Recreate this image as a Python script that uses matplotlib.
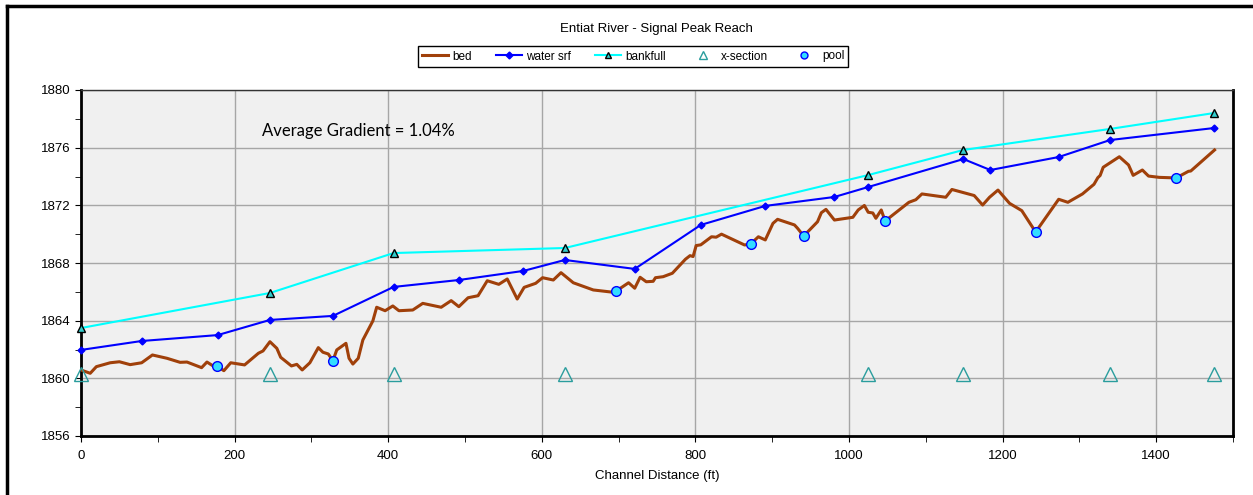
import numpy as np
import matplotlib
matplotlib.use('Agg')
import matplotlib.pyplot as plt
from matplotlib.ticker import MultipleLocator
from matplotlib.lines import Line2D

plt.rcParams['font.family'] = 'Liberation Sans'

# bed profile (channel distance ft, elevation)
bed_x = [0, 12, 20, 38, 50, 64, 79, 93, 112, 129, 138, 157, 164, 172, 177, 186, 195, 213,
         231, 237, 246, 255, 260, 274, 281, 288, 298, 309, 315, 322, 328, 333, 345, 349,
         354, 361, 367, 380, 385, 396, 406, 414, 432, 445, 469, 482, 492, 504, 517, 529,
         544, 555, 568, 577, 592, 601, 615, 625, 641, 667, 693, 697, 713, 721, 728, 736,
         745, 748, 758, 770, 787, 793, 797, 801, 807, 821, 827, 834, 864, 872, 882, 891,
         901, 907, 929, 933, 941, 959, 964, 970, 981, 1005, 1012, 1020, 1025, 1031, 1035,
         1042, 1047, 1078, 1087, 1095, 1126, 1134, 1163, 1174, 1183, 1194, 1209, 1225,
         1243, 1273, 1285, 1304, 1319, 1324, 1327, 1331, 1352, 1364, 1370, 1382, 1390,
         1404, 1426, 1442, 1445, 1476]
bed_z = [1860.58, 1860.35, 1860.81, 1861.08, 1861.15, 1860.95, 1861.08, 1861.62, 1861.39,
         1861.11, 1861.13, 1860.74, 1861.13, 1860.86, 1860.86, 1860.53, 1861.08, 1860.93,
         1861.74, 1861.90, 1862.54, 1862.08, 1861.46, 1860.86, 1860.97, 1860.58, 1861.08,
         1862.13, 1861.81, 1861.69, 1861.22, 1861.97, 1862.43, 1861.39, 1860.99, 1861.39,
         1862.66, 1863.98, 1864.93, 1864.69, 1865.02, 1864.69, 1864.74, 1865.20, 1864.93,
         1865.39, 1864.97, 1865.59, 1865.73, 1866.77, 1866.52, 1866.89, 1865.50, 1866.31,
         1866.59, 1866.98, 1866.82, 1867.33, 1866.63, 1866.13, 1865.97, 1866.06, 1866.63,
         1866.25, 1867.01, 1866.70, 1866.73, 1866.98, 1867.05, 1867.29, 1868.26, 1868.51,
         1868.45, 1869.21, 1869.26, 1869.82, 1869.79, 1870.00, 1869.25, 1869.32, 1869.82,
         1869.60, 1870.75, 1871.03, 1870.64, 1870.41, 1869.87, 1870.86, 1871.49, 1871.72,
         1870.98, 1871.17, 1871.68, 1871.99, 1871.52, 1871.47, 1871.10, 1871.68, 1870.91,
         1872.21, 1872.39, 1872.79, 1872.56, 1873.10, 1872.68, 1872.02, 1872.56, 1873.06,
         1872.14, 1871.63, 1870.15, 1872.42, 1872.21, 1872.79, 1873.46, 1873.92, 1874.07,
         1874.64, 1875.37, 1874.80, 1874.08, 1874.45, 1874.03, 1873.94, 1873.90, 1874.36,
         1874.38, 1875.84]

# water surface
ws_x = [0, 79, 178, 246, 328, 407, 492, 576, 630, 721, 807, 891, 981, 1025, 1149, 1184,
        1273, 1340, 1475]
ws_z = [1861.97, 1862.59, 1863.00, 1864.05, 1864.33, 1866.34, 1866.82, 1867.45, 1868.21,
        1867.59, 1870.64, 1871.96, 1872.58, 1873.27, 1875.21, 1874.45, 1875.35, 1876.53,
        1877.36]

# bankfull and x-sections
xs_x = [0, 246, 407, 630, 1025, 1149, 1340, 1475]
bf_z = [1863.49, 1865.92, 1868.69, 1869.04, 1874.10, 1875.84, 1877.30, 1878.40]
xs_z = [1860.3] * len(xs_x)

# pools
pool_x = [177, 328, 697, 872, 941, 1047, 1243, 1426]
pool_z = [1860.86, 1861.20, 1866.06, 1869.32, 1869.87, 1870.91, 1870.15, 1873.90]

fig = plt.figure(figsize=(12.53, 4.95), dpi=100)

# figure frame (only top and left visible)
fig.add_artist(Line2D([7/1253, 7/1253], [0, 1 - 6/495], transform=fig.transFigure, color='black', lw=2.5))
fig.add_artist(Line2D([7/1253, 1], [1 - 6/495, 1 - 6/495], transform=fig.transFigure, color='black', lw=2.5))

ax = fig.add_axes([81/1253, 1 - 436/495, 1152/1253, 346/495])
ax.set_facecolor('#f0f0f0')

ax.plot(bed_x, bed_z, color='#a0400a', lw=2.2, label='bed', zorder=3)
ax.plot(ws_x, ws_z, color='#0000ff', lw=1.5, marker='D', ms=3.5, label='water srf', zorder=4,
        clip_on=False)
ax.plot(xs_x, bf_z, color='#00ffff', lw=1.5, marker='^', ms=6, mfc='#33cccc', mec='black',
        mew=1, label='bankfull', zorder=4, clip_on=False)
ax.plot(xs_x, xs_z, ls='none', marker='^', ms=10, mfc='none', mec='#2a9d9d', mew=1,
        label='x-section', zorder=4, clip_on=False)
ax.plot(pool_x, pool_z, ls='none', marker='o', ms=7, mfc='#33ddff', mec='#0000ff', mew=1,
        label='pool', zorder=5)

ax.set_xlim(0, 1500)
ax.set_ylim(1856, 1880)
ax.xaxis.set_major_locator(MultipleLocator(200))
ax.xaxis.set_minor_locator(MultipleLocator(100))
ax.yaxis.set_major_locator(MultipleLocator(4))
ax.yaxis.set_minor_locator(MultipleLocator(2))
ax.set_xticks(np.arange(0, 1401, 200))
ax.grid(True, which='major', color='#a6a6a6', lw=1)
ax.set_axisbelow(True)
ax.tick_params(which='both', direction='out', labelsize=9.5, color='black')
ax.tick_params(which='both', length=4)
ax.tick_params(axis='x', which='major', pad=6)
for s in ['left', 'bottom', 'right']:
    ax.spines[s].set_linewidth(2)
ax.spines['top'].set_linewidth(1)
ax.spines['top'].set_color('#333333')

ax.set_xlabel('Channel Distance (ft)', fontsize=9.5, labelpad=6)
fig.text(0.524, 1 - 29/495, 'Entiat River - Signal Peak Reach', ha='center', va='center', fontsize=9.5)

ax.text(0.157, 0.881, 'Average Gradient = 1.04%', transform=ax.transAxes, ha='left',
        va='center', fontsize=12, family='Lato')

leg = fig.legend(loc='center', bbox_to_anchor=(633/1253, 1 - 56.5/495), ncol=5, fontsize=8.5,
                 frameon=True, fancybox=False, edgecolor='black', framealpha=1,
                 handlelength=2.2, columnspacing=2.0, borderpad=0.35, handletextpad=0.4)
leg.get_frame().set_linewidth(1)
hs = leg.legend_handles
hs[2].set_markersize(5)
hs[3].set_markersize(6)
hs[4].set_markersize(5)

fig.savefig('out.png', dpi=100)
